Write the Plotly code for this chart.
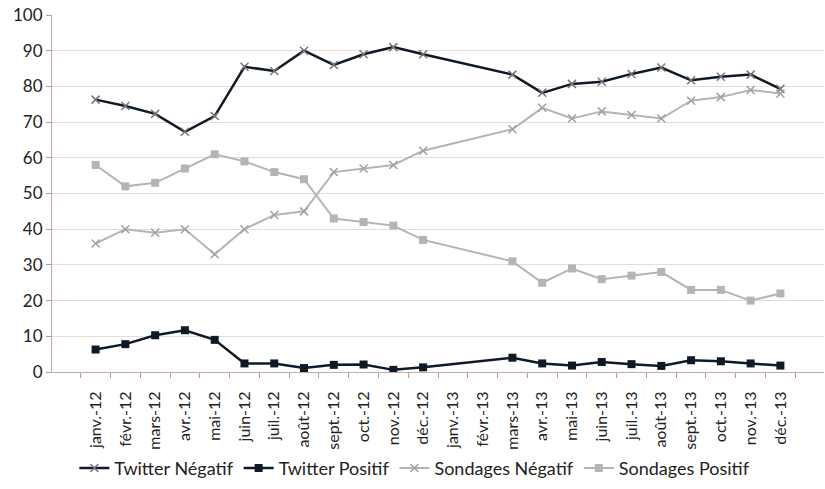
import plotly.graph_objects as go

months = ["janv.-12", "févr.-12", "mars-12", "avr.-12", "mai-12", "juin-12", "juil.-12",
          "août-12", "sept.-12", "oct.-12", "nov.-12", "déc.-12", "janv.-13", "févr.-13",
          "mars-13", "avr.-13", "mai-13", "juin-13", "juil.-13", "août-13", "sept.-13",
          "oct.-13", "nov.-13", "déc.-13"]

twitter_negatif = [76.3, 74.5, 72.3, 67.3, 71.7, 85.5, 84.3, 90, 86, 89, 91, 89, None, None,
                   83.3, 78.2, 80.7, 81.3, 83.5, 85.3, 81.7, 82.7, 83.3, 79.3]
twitter_positif = [6.3, 7.8, 10.3, 11.7, 9, 2.4, 2.4, 1.1, 2, 2.1, 0.6, 1.3, None, None,
                   4, 2.4, 1.8, 2.8, 2.2, 1.7, 3.3, 3, 2.4, 1.8]
sondages_negatif = [36, 40, 39, 40, 33, 40, 44, 45, 56, 57, 58, 62, None, None,
                    68, 74, 71, 73, 72, 71, 76, 77, 79, 78]
sondages_positif = [58, 52, 53, 57, 61, 59, 56, 54, 43, 42, 41, 37, None, None,
                    31, 25, 29, 26, 27, 28, 23, 23, 20, 22]

dark = "#0e1a28"
gray = "#b4b4b4"
font = "Lato"

fig = go.Figure()
fig.add_trace(go.Scatter(x=months, y=twitter_negatif, name="Twitter Négatif", mode="lines+markers",
                         connectgaps=True, line=dict(color=dark, width=2.5),
                         marker=dict(symbol="x-thin-open", size=8, color="#777777",
                                     line=dict(width=1.5, color="#777777"))))
fig.add_trace(go.Scatter(x=months, y=twitter_positif, name="Twitter Positif", mode="lines+markers",
                         connectgaps=True, line=dict(color=dark, width=2.5),
                         marker=dict(symbol="square", size=8, color=dark)))
fig.add_trace(go.Scatter(x=months, y=sondages_negatif, name="Sondages Négatif", mode="lines+markers",
                         connectgaps=True, line=dict(color=gray, width=2),
                         marker=dict(symbol="x-thin-open", size=8, color="#a0a0a0",
                                     line=dict(width=1.5, color="#a0a0a0"))))
fig.add_trace(go.Scatter(x=months, y=sondages_positif, name="Sondages Positif", mode="lines+markers",
                         connectgaps=True, line=dict(color=gray, width=2),
                         marker=dict(symbol="square", size=8, color=gray)))

fig.update_layout(
    width=825, height=489,
    margin=dict(l=52, r=1, t=15, b=117, autoexpand=False),
    paper_bgcolor="white", plot_bgcolor="white",
    font=dict(family=font, size=15, color="#222222"),
    showlegend=True,
    legend=dict(orientation="h", x=0.47, xanchor="center", y=-0.27, yanchor="middle",
                font=dict(size=18, color="#222222"), tracegroupgap=0),
)
fig.update_xaxes(type="category", categoryorder="array", categoryarray=months,
                 tickangle=-90, tickson="boundaries", ticks="outside", ticklen=5,
                 tickcolor="#b89a94", showline=True, linecolor="#c8aca6", linewidth=1,
                 showgrid=False, automargin=False, ticklabelstandoff=12,
                 tickfont=dict(size=16, color="#222222"))
fig.update_yaxes(range=[0, 100], dtick=10, showgrid=True, gridcolor="#e6dcdc", gridwidth=1,
                 ticks="outside", ticklen=5, tickcolor="#b89a94", automargin=False,
                 showline=True, linecolor="#c8aca6", linewidth=1, zeroline=False,
                 tickfont=dict(size=17, color="#222222"))

fig.write_html("out.html", config={"displayModeBar": False},
               post_script="document.body.style.margin='0';")
